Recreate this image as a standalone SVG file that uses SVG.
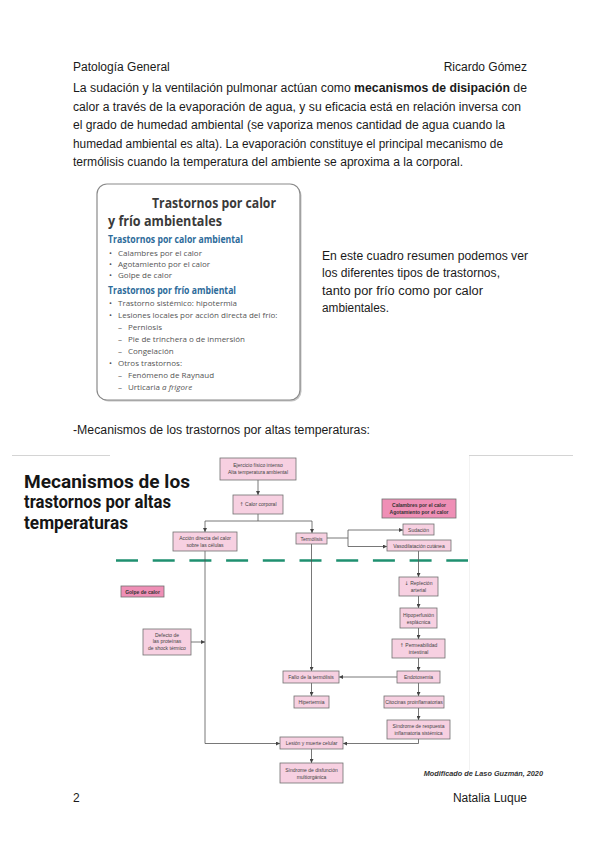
<svg xmlns="http://www.w3.org/2000/svg" width="599" height="848" viewBox="0 0 599 848">
<style>
.t{font-family:"Liberation Sans",Arial,sans-serif;font-size:12px;fill:#1a1a1a}
.b{font-weight:bold}
.bx{font-family:"Open Sans","Noto Sans",sans-serif;fill:#555;font-size:8px}
.bh{font-family:"Open Sans","Noto Sans",sans-serif;fill:#2d6b9a;font-size:10px;font-weight:bold}
.bt{font-family:"Open Sans","Noto Sans",sans-serif;fill:#3a3a3a;font-size:14.5px;font-weight:bold}
.n rect{fill:#f7d0e1;stroke:#707070;stroke-width:0.8}
.n text{font-family:"Liberation Sans",Arial,sans-serif;font-size:5px;fill:#444;text-anchor:middle}
.d rect{fill:#ef8fb6;stroke:#707070;stroke-width:0.8}
.d text{font-family:"Liberation Sans",Arial,sans-serif;font-size:5px;fill:#333;text-anchor:middle;font-weight:bold}
.ar{font-family:"DejaVu Sans",sans-serif}
.c path{fill:none;stroke:#555;stroke-width:0.8}
</style>
<defs>
<marker id="a" viewBox="0 0 6 6" refX="6" refY="3" markerWidth="4" markerHeight="4" orient="auto" markerUnits="userSpaceOnUse"><path d="M0,0 L6,3 L0,6 z" fill="#444"/></marker>
</defs>
<rect width="599" height="848" fill="#fff"/>

<!-- header -->
<text class="t" x="73" y="71" font-size="11.5">Patología General</text>
<text class="t" x="527" y="71" font-size="11.5" text-anchor="end">Ricardo Gómez</text>

<!-- paragraph -->
<text class="t" x="73" y="92" textLength="454" lengthAdjust="spacingAndGlyphs">La sudación y la ventilación pulmonar actúan como <tspan class="b">mecanismos de disipación</tspan> de</text>
<text class="t" x="73" y="111" textLength="448" lengthAdjust="spacingAndGlyphs">calor a través de la evaporación de agua, y su eficacia está en relación inversa con</text>
<text class="t" x="73" y="129" textLength="432" lengthAdjust="spacingAndGlyphs">el grado de humedad ambiental (se vaporiza menos cantidad de agua cuando la</text>
<text class="t" x="73" y="148" textLength="430" lengthAdjust="spacingAndGlyphs">humedad ambiental es alta). La evaporación constituye el principal mecanismo de</text>
<text class="t" x="73" y="166" textLength="390" lengthAdjust="spacingAndGlyphs">termólisis cuando la temperatura del ambiente se aproxima a la corporal.</text>

<!-- textbook box -->
<g id="box">
<rect x="98.5" y="185.5" width="203" height="216" rx="10" fill="#c4c4c4"/>
<rect x="97" y="184" width="203" height="216" rx="10" fill="#fff" stroke="#8a8a8a" stroke-width="1.2"/>
<text class="bt" x="152" y="208" textLength="124" lengthAdjust="spacingAndGlyphs">Trastornos por calor</text>
<text class="bt" x="108" y="226" textLength="114" lengthAdjust="spacingAndGlyphs">y frío ambientales</text>
<text class="bh" x="108" y="243" textLength="135" lengthAdjust="spacingAndGlyphs">Trastornos por calor ambiental</text>
<text class="bx" x="109" y="256">•</text><text class="bx" x="118" y="256">Calambres por el calor</text>
<text class="bx" x="109" y="267">•</text><text class="bx" x="118" y="267">Agotamiento por el calor</text>
<text class="bx" x="109" y="278">•</text><text class="bx" x="118" y="278">Golpe de calor</text>
<text class="bh" x="108" y="294" textLength="128" lengthAdjust="spacingAndGlyphs">Trastornos por frío ambiental</text>
<text class="bx" x="109" y="306">•</text><text class="bx" x="118" y="306">Trastorno sistémico: hipotermia</text>
<text class="bx" x="109" y="318">•</text><text class="bx" x="118" y="318">Lesiones locales por acción directa del frío:</text>
<text class="bx" x="118" y="330">–</text><text class="bx" x="128" y="330">Perniosis</text>
<text class="bx" x="118" y="342">–</text><text class="bx" x="128" y="342">Pie de trinchera o de inmersión</text>
<text class="bx" x="118" y="354">–</text><text class="bx" x="128" y="354">Congelación</text>
<text class="bx" x="109" y="366">•</text><text class="bx" x="118" y="366">Otros trastornos:</text>
<text class="bx" x="118" y="378">–</text><text class="bx" x="128" y="378">Fenómeno de Raynaud</text>
<text class="bx" x="118" y="390">–</text><text class="bx" x="128" y="390">Urticaria <tspan font-style="italic">a frigore</tspan></text>
</g>

<!-- side text -->
<text class="t" x="322" y="260" textLength="206" lengthAdjust="spacingAndGlyphs">En este cuadro resumen podemos ver</text>
<text class="t" x="322" y="277" textLength="178" lengthAdjust="spacingAndGlyphs">los diferentes tipos de trastornos,</text>
<text class="t" x="322" y="295" textLength="161" lengthAdjust="spacingAndGlyphs">tanto por frío como por calor</text>
<text class="t" x="322" y="312" textLength="67" lengthAdjust="spacingAndGlyphs">ambientales.</text>

<text class="t" x="73" y="434" textLength="297" lengthAdjust="spacingAndGlyphs">-Mecanismos de los trastornos por altas temperaturas:</text>

<!-- embedded figure frame -->
<line x1="12" y1="455.5" x2="110" y2="455.5" stroke="#d4d4d4" stroke-width="1.2"/>
<line x1="469" y1="455.5" x2="573" y2="455.5" stroke="#d4d4d4" stroke-width="1.2"/>
<line x1="469.5" y1="456" x2="469.5" y2="770" stroke="#f2f2f2" stroke-width="1"/>

<g font-family="Roboto,Inter,'Liberation Sans',sans-serif" font-weight="bold" font-size="17.5" fill="#161616">
<text x="24" y="487.5" textLength="166" lengthAdjust="spacingAndGlyphs">Mecanismos de los</text>
<text x="24" y="508" textLength="147" lengthAdjust="spacingAndGlyphs">trastornos por altas</text>
<text x="24" y="528.5" textLength="104" lengthAdjust="spacingAndGlyphs">temperaturas</text>
</g>

<!-- dashed line -->
<line x1="116" y1="560.5" x2="468" y2="560.5" stroke="#1f9070" stroke-width="2.4" stroke-dasharray="22 14.7"/>

<!-- connectors -->
<g id="connectors" class="c">
<path d="M258,480 V495" marker-end="url(#a)"/>
<path d="M258,514 V521 M205,521 H312"/>
<path d="M205,521 V532" marker-end="url(#a)"/>
<path d="M312,521 V533" marker-end="url(#a)"/>
<path d="M327,538 H348 M348,530 V546.5"/>
<path d="M348,530 H403" marker-end="url(#a)"/>
<path d="M348,546.5 H387" marker-end="url(#a)"/>
<path d="M205,551 V743.5 H280" marker-end="url(#a)"/>
<path d="M191,642 H205" marker-end="url(#a)"/>
<path d="M311.5,544 V671" marker-end="url(#a)"/>
<path d="M418.5,551 V577" marker-end="url(#a)"/>
<path d="M418.5,596 V608" marker-end="url(#a)"/>
<path d="M418.5,628 V639" marker-end="url(#a)"/>
<path d="M418.5,658 V671" marker-end="url(#a)"/>
<path d="M397,677 H339" marker-end="url(#a)"/>
<path d="M311.5,683 V696" marker-end="url(#a)"/>
<path d="M418.5,683 V696" marker-end="url(#a)"/>
<path d="M418.5,708 V720" marker-end="url(#a)"/>
<path d="M418.5,739 V743.5 H343" marker-end="url(#a)"/>
<path d="M311.5,749 V763" marker-end="url(#a)"/>
</g>

<!-- nodes -->
<g id="n1" class="n"><rect x="220" y="458" width="76" height="22"/><text x="258" y="467">Ejercicio físico intenso</text><text x="258" y="474">Alta temperatura ambiental</text></g>
<g id="n2" class="n"><rect x="233" y="495" width="50" height="19"/><text x="258" y="506"><tspan class="ar">↑</tspan> Calor corporal</text></g>
<g id="n3" class="n"><rect x="173" y="532" width="64" height="19"/><text x="205" y="540">Acción directa del calor</text><text x="205" y="547">sobre las células</text></g>
<g id="n4" class="n"><rect x="296" y="533" width="31" height="11"/><text x="311.5" y="540.5">Termólisis</text></g>
<g id="n5" class="d"><rect x="382" y="499" width="74" height="19"/><text x="419" y="507">Calambres por el calor</text><text x="419" y="514">Agotamiento por el calor</text></g>
<g id="n6" class="n"><rect x="403" y="524" width="31" height="11"/><text x="418.5" y="531.5">Sudación</text></g>
<g id="n7" class="n"><rect x="387" y="540" width="64" height="11"/><text x="419" y="547.5">Vasodilatación cutánea</text></g>
<g id="n8" class="d"><rect x="121" y="586" width="43" height="11"/><text x="142.5" y="593.5">Golpe de calor</text></g>
<g id="n9" class="n"><rect x="399" y="577" width="39" height="19"/><text x="418.5" y="585"><tspan class="ar">↓</tspan> Repleción</text><text x="418.5" y="592">arterial</text></g>
<g id="n10" class="n"><rect x="400" y="608" width="37" height="20"/><text x="418.5" y="616.5">Hipoperfusión</text><text x="418.5" y="623.5">esplácnica</text></g>
<g id="n11" class="n"><rect x="392" y="639" width="53" height="19"/><text x="418.5" y="647"><tspan class="ar">↑</tspan> Permeabilidad</text><text x="418.5" y="654">intestinal</text></g>
<g id="n12" class="n"><rect x="143" y="629" width="48" height="26"/><text x="167" y="636.5">Defecto de</text><text x="167" y="643">las proteínas</text><text x="167" y="649.5">de shock térmico</text></g>
<g id="n13" class="n"><rect x="283" y="671" width="56" height="12"/><text x="311" y="678.8">Fallo de la termólisis</text></g>
<g id="n14" class="n"><rect x="397" y="671" width="43" height="12"/><text x="418.5" y="678.8">Endotoxemia</text></g>
<g id="n15" class="n"><rect x="294" y="696" width="35" height="12"/><text x="311.5" y="703.8">Hipertermia</text></g>
<g id="n16" class="n"><rect x="384" y="696" width="60" height="12"/><text x="414" y="703.8">Citocinas proinflamatorias</text></g>
<g id="n17" class="n"><rect x="387" y="720" width="63" height="19"/><text x="418.5" y="728">Síndrome de respuesta</text><text x="418.5" y="735">inflamatoria sistémica</text></g>
<g id="n18" class="n"><rect x="280" y="737" width="63" height="12"/><text x="311.5" y="744.8">Lesión y muerte celular</text></g>
<g id="n19" class="n"><rect x="280" y="763" width="63" height="20"/><text x="311.5" y="771.5">Síndrome de disfunción</text><text x="311.5" y="778.5">multiorgánica</text></g>

<text x="543" y="776" text-anchor="end" font-family="'Liberation Sans',Arial,sans-serif" font-size="7.3" font-weight="bold" font-style="italic" fill="#333">Modificado de Laso Guzmán, 2020</text>

<!-- footer -->
<text class="t" x="73" y="802">2</text>
<text class="t" x="527" y="802" text-anchor="end">Natalia Luque</text>
</svg>
